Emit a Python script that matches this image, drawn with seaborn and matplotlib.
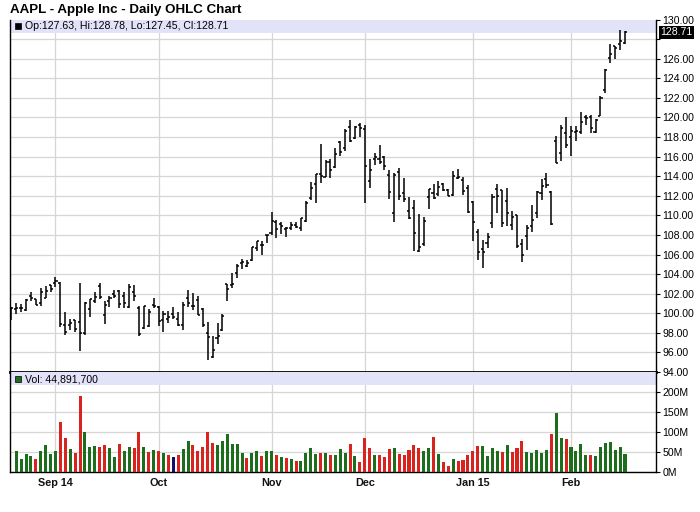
import numpy as np
import pandas as pd
import matplotlib
matplotlib.use("Agg")
import matplotlib.pyplot as plt
import matplotlib.transforms as mtransforms
from matplotlib.patches import Rectangle
import seaborn as sns

# ---------------- data ----------------
months = ["Aug", "Sep", "Oct", "Nov", "Dec", "Jan", "Feb"]
aug_days = [19, 20, 21, 22, 25, 26, 27, 28, 29]
sep_days = [2, 3, 4, 5, 8, 9, 10, 11, 12, 15, 16, 17, 18, 19, 22, 23, 24, 25, 26, 29, 30]
oct_days = [1, 2, 3, 6, 7, 8, 9, 10, 13, 14, 15, 16, 17, 20, 21, 22, 23, 24, 27, 28, 29, 30, 31]
nov_days = [3, 4, 5, 6, 7, 10, 11, 12, 13, 14, 17, 18, 19, 20, 21, 24, 25, 26, 28]
dec_days = [1, 2, 3, 4, 5, 8, 9, 10, 11, 12, 15, 16, 17, 18, 19, 22, 23, 24, 26, 29, 30, 31]
jan_days = [2, 5, 6, 7, 8, 9, 12, 13, 14, 15, 16, 20, 21, 22, 23, 26, 27, 28, 29, 30]
feb_days = [2, 3, 4, 5, 6, 9, 10, 11, 12, 13, 17, 18]

opens = [
    100.04, 100.44, 100.57, 100.29, 101.79, 101.42, 101.02, 101.59, 102.86,
    103.06, 103.10, 98.85, 98.80, 99.30, 99.08, 98.01, 100.41, 101.21, 102.81, 99.80,
    101.27, 101.93, 102.29, 101.80, 100.60, 102.16, 100.51, 98.53, 98.65, 100.81,
    100.59, 99.27, 99.44, 99.95, 99.43, 98.76, 101.54, 100.69, 101.33, 100.39, 97.97,
    95.55, 97.50, 98.32, 103.02, 102.84, 104.08, 105.18, 104.85, 105.40, 106.65, 106.96, 108.01,
    108.22, 109.36, 109.10, 108.60, 108.75, 109.02, 108.70, 109.38, 111.80, 113.15,
    114.27, 113.94, 115.44, 114.91, 117.51, 116.85, 119.07, 117.94, 119.27,
    118.81, 113.50, 115.75, 115.77, 115.99, 114.10, 110.19, 114.41, 112.26, 110.46, 110.70,
    106.37, 107.12, 111.87, 112.26, 112.16, 113.23, 112.58, 112.10, 113.79, 113.64, 112.82,
    111.39, 108.29, 106.54, 107.20, 109.23, 112.67, 112.60, 111.43, 109.04, 110.00,
    107.03, 107.84, 108.95, 110.26, 112.30, 113.74, 112.42, 117.63, 116.32, 118.40,
    118.05, 118.50, 118.50, 120.02, 120.02, 118.55, 120.17, 122.77, 126.06, 127.28, 127.49, 127.63,
]
highs = [
    100.68, 101.09, 100.94, 101.47, 102.17, 101.50, 102.57, 102.78, 102.90,
    103.74, 103.20, 100.09, 99.39, 99.31, 103.08, 101.11, 101.44, 102.19, 103.05, 101.26,
    101.80, 102.35, 102.35, 102.14, 102.94, 102.85, 100.71, 100.75, 100.44, 101.54,
    100.69, 100.22, 100.21, 100.65, 100.12, 101.11, 102.38, 102.03, 101.78, 100.52, 99.15,
    97.72, 99.00, 99.96, 103.02, 104.11, 105.05, 105.49, 105.48, 106.74, 107.37, 107.35, 108.04,
    110.30, 109.49, 109.30, 108.79, 109.32, 109.33, 109.75, 111.43, 113.45, 114.19,
    117.28, 115.69, 115.74, 116.86, 117.57, 118.77, 119.75, 119.10, 119.40,
    119.25, 115.75, 116.35, 117.20, 116.08, 114.65, 114.30, 114.85, 113.80, 111.87, 111.60,
    110.16, 109.84, 112.65, 113.24, 113.49, 113.33, 112.71, 114.52, 114.77, 113.92, 113.13,
    111.44, 108.65, 107.43, 108.20, 112.15, 113.25, 112.63, 112.80, 110.49, 110.06,
    107.58, 108.97, 111.06, 112.47, 113.75, 114.36, 112.48, 118.12, 119.19, 120.00,
    119.17, 119.09, 120.51, 120.23, 120.25, 119.84, 122.15, 124.92, 127.48, 127.28, 128.88, 128.78,
]
lows = [
    99.32, 99.95, 100.11, 100.19, 101.28, 100.86, 100.70, 101.56, 102.20,
    102.72, 98.58, 97.79, 98.31, 98.05, 96.14, 97.76, 99.62, 101.08, 101.44, 98.89,
    100.59, 101.56, 100.50, 100.58, 100.54, 101.20, 97.72, 98.40, 98.63, 100.53,
    98.70, 98.04, 99.04, 99.42, 98.73, 98.31, 100.61, 100.30, 99.81, 98.57, 95.18,
    95.41, 96.81, 98.22, 101.27, 102.60, 103.63, 104.53, 104.70, 105.35, 106.36, 105.90, 107.21,
    108.01, 107.72, 108.12, 107.80, 108.55, 108.67, 108.40, 109.37, 111.60, 111.21,
    113.30, 113.89, 113.80, 114.85, 116.03, 116.62, 117.45, 117.83, 118.05,
    111.27, 112.75, 115.11, 115.29, 114.64, 111.62, 109.35, 111.54, 111.34, 109.58, 106.35,
    106.26, 106.82, 110.66, 111.66, 111.97, 112.46, 112.01, 112.01, 113.70, 112.11, 110.21,
    107.35, 105.41, 104.63, 106.70, 108.70, 110.21, 108.80, 108.91, 108.50, 106.66,
    105.20, 106.50, 108.27, 109.72, 111.53, 112.80, 109.03, 115.31, 115.56, 116.85,
    116.08, 117.61, 118.31, 119.25, 118.45, 118.43, 120.16, 122.50, 125.57, 126.01, 126.92, 127.45,
]
closes = [
    100.53, 100.57, 100.58, 101.32, 101.54, 100.89, 102.13, 102.25, 102.50,
    103.30, 98.94, 98.12, 98.97, 98.36, 97.99, 101.00, 101.43, 101.66, 101.63, 100.86,
    101.58, 101.79, 100.96, 101.06, 102.64, 101.75, 97.87, 100.75, 100.11, 100.75,
    99.18, 99.90, 99.62, 99.62, 98.75, 100.80, 101.02, 100.73, 99.81, 98.75, 97.54,
    96.26, 97.67, 99.76, 102.47, 102.99, 104.83, 105.22, 105.11, 106.74, 107.34, 106.98, 108.00,
    109.40, 108.60, 108.86, 108.70, 109.01, 108.83, 109.70, 111.25, 112.82, 114.18,
    113.99, 115.47, 114.67, 116.31, 116.47, 118.62, 117.60, 119.00, 118.93,
    115.07, 114.63, 115.93, 115.49, 115.00, 112.40, 114.12, 111.95, 111.62, 109.73, 108.23,
    106.75, 109.41, 112.65, 111.78, 112.94, 112.54, 112.01, 113.99, 113.91, 112.52, 110.38,
    109.33, 106.25, 106.26, 107.75, 111.89, 112.01, 109.25, 110.22, 109.80, 106.82,
    105.99, 108.72, 109.55, 112.40, 112.98, 113.10, 109.14, 115.31, 118.90, 117.16,
    118.63, 118.65, 119.56, 119.94, 118.93, 119.72, 122.02, 124.88, 126.46, 127.08, 127.83, 128.71,
]
volumes_m = [
    np.nan, 52, 33, 45, 40, 33, 52, 67, 45,
    52, 125, 85, 57, 47, 190, 100, 62, 65, 62, 67, 60, 37, 70, 52, 62, 60, 100, 62, 50, 55,
    52, 47, 42, 37, 42, 57, 77, 67, 52, 62, 100, 72, 67, 77, 95, 70, 70, 47, 35, 47, 52, 40, 52,
    52, 42, 37, 35, 32, 27, 27, 47, 60, 45, 47, 47, 42, 42, 57, 47, 70, 40, 25,
    85, 60, 42, 42, 37, 57, 60, 45, 42, 55, 67, 60, 52, 60, 87, 45, 25, 15, 32, 27, 30, 42,
    52, 65, 65, 40, 60, 52, 50, 67, 50, 60, 77, 50, 47, 55, 47, 55, 95, 147, 85, 82,
    62, 52, 70, 42, 42, 40, 62, 72, 75, 55, 62, 44.8917,
]
month_labels = ["Sep 14", "Oct", "Nov", "Dec", "Jan 15", "Feb"]
price_ticks = [94, 96, 98, 100, 102, 104, 106, 108, 110, 112, 114, 116, 118, 120, 122, 124, 126, 128, 130]
vol_ticks = [0, 50, 100, 150, 200]
vol_tick_labels = ["0M", "50M", "100M", "150M", "200M"]
title = "AAPL - Apple Inc - Daily OHLC Chart"
ohlc_legend = "Op:127.63, Hi:128.78, Lo:127.45, Cl:128.71"
vol_legend = "Vol: 44,891,700"
last_label = "128.71"

# ---------------- frame ----------------
month_day_lists = [aug_days, sep_days, oct_days, nov_days, dec_days, jan_days, feb_days]
month_of_bar = []
for m, days in zip(months, month_day_lists):
    month_of_bar += [m] * len(days)
n = len(opens)
df = pd.DataFrame({
    "idx": np.arange(n), "month": month_of_bar,
    "open": opens, "high": highs, "low": lows, "close": closes, "vol": volumes_m,
})
chg = df["close"].diff()
df["dir"] = np.where(chg > 0, "up", np.where(chg < 0, "down", "flat"))
month_start_idx = [df.index[df["month"] == m][0] for m in months[1:]]

# ---------------- style ----------------
sns.set_theme(style="white")
plt.rcParams["font.family"] = ["Liberation Sans", "DejaVu Sans"]

W, H = 700, 512
fig = plt.figure(figsize=(W / 100, H / 100), dpi=100)
fig.patch.set_facecolor("white")

def fx(px):
    return px / W

def fy(py):
    return 1 - py / H

left_px, right_px = 10, 656
p_top, p_bot = 19.5, 372
v_top, v_bot = 372, 472

axp = fig.add_axes([fx(left_px), fy(p_bot), fx(right_px - left_px), (p_bot - p_top) / H])
axv = fig.add_axes([fx(left_px), fy(v_bot), fx(right_px - left_px), (v_bot - v_top) / H])

spacing = 4.91
xmin = -(11.3 - left_px) / spacing
xmax = (n - 1) + (right_px - 625) / spacing

grid_c = "#d6d6d6"
band_c = "#e2e2f8"

for ax in (axp, axv):
    ax.set_facecolor("white")
    ax.set_xlim(xmin, xmax)
    ax.set_xticks(month_start_idx)
    ax.grid(True, color=grid_c, linewidth=0.9, zorder=0)
    ax.set_axisbelow(True)
    for s in ["left", "right", "bottom", "top"]:
        ax.spines[s].set_color("black")
        ax.spines[s].set_linewidth(1.0)
    ax.spines["top"].set_visible(False)
    ax.yaxis.tick_right()
    ax.tick_params(axis="y", direction="out", length=3, width=0.8, color="black",
                   labelsize=7.6, pad=1.5, labelcolor="black")
    ax.tick_params(axis="x", length=0)

# ---------------- price panel ----------------
axp.set_ylim(94, 130)
axp.set_yticks(price_ticks)
axp.set_yticklabels(["" if t == 128 else f"{t:.2f}" for t in price_ticks])
axp.set_xticklabels([])
axp.spines["bottom"].set_linewidth(2.0)

band_h = 13 / (p_bot - p_top)
axp.add_patch(Rectangle((0, 1 - band_h), 1, band_h, transform=axp.transAxes,
                        facecolor=band_c, edgecolor="none", zorder=1))

tick_w = 0.42
axp.vlines(df["idx"], df["low"], df["high"], color="black", linewidth=1.1, zorder=3)
axp.hlines(df["open"], df["idx"] - tick_w, df["idx"], color="black", linewidth=1.1, zorder=3)
axp.hlines(df["close"], df["idx"], df["idx"] + tick_w, color="black", linewidth=1.1, zorder=3)

trans = mtransforms.blended_transform_factory(axp.transAxes, axp.transData)
axp.text(1 + 4 / (right_px - left_px), float(df["close"].iloc[-1]), last_label, transform=trans,
         ha="left", va="center", color="white", fontsize=7.6, zorder=5,
         bbox=dict(facecolor="black", edgecolor="none", pad=1.0))

# ---------------- volume panel ----------------
axv.set_ylim(0, 250)
axv.set_yticks(vol_ticks)
axv.set_yticklabels(vol_tick_labels)
vband_h = 13 / (v_bot - v_top)
axv.add_patch(Rectangle((0, 1 - vband_h), 1, vband_h, transform=axv.transAxes,
                        facecolor=band_c, edgecolor="none", zorder=1))

palette = {"up": "#1c6e1c", "down": "#d8231f", "flat": "#10106e"}
sns.barplot(data=df.dropna(subset=["vol"]), x="idx", y="vol", hue="dir", palette=palette,
            native_scale=True, dodge=False, width=0.62, saturation=1, errorbar=None,
            legend=False, ax=axv, zorder=3, linewidth=0)
axv.set_xlim(xmin, xmax)
axv.set_xlabel("")
axv.set_ylabel("")
axv.set_xticks(month_start_idx)
axv.set_xticklabels(month_labels, fontsize=7.8, fontweight="bold", color="#111111")
axv.tick_params(axis="x", length=0, pad=4)
axp.set_xlabel("")
axp.set_ylabel("")

# ---------------- texts ----------------
fig.text(fx(10), fy(10.5), title, fontsize=9.6, fontweight="bold", ha="left", va="center",
         color="black")
fig.add_artist(Rectangle((fx(15), fy(28.5)), 6 / W, 6 / H, transform=fig.transFigure,
                         facecolor="black", edgecolor="black", linewidth=0.5, zorder=6))
fig.text(fx(25), fy(26.2), ohlc_legend, fontsize=7.6, ha="left", va="center", color="black",
         zorder=6)
fig.add_artist(Rectangle((fx(15), fy(382)), 6 / W, 6 / H, transform=fig.transFigure,
                         facecolor="#1c6e1c", edgecolor="black", linewidth=0.5, zorder=6))
fig.text(fx(25), fy(379), vol_legend, fontsize=7.6, ha="left", va="center", color="black",
         zorder=6)

fig.savefig("out.png", dpi=100)
